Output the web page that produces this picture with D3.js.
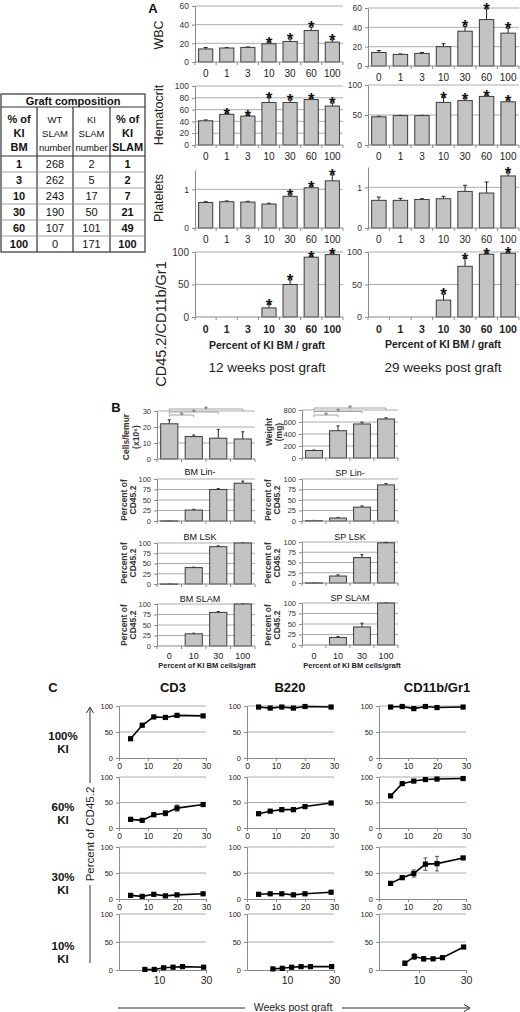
<!DOCTYPE html>
<html>
<head>
<meta charset="utf-8">
<script src="https://cdn.jsdelivr.net/npm/d3@7"></script>
<style>
body { margin: 0; background: #fff; }
text { font-family: "Liberation Sans", Arial, sans-serif; }
</style>
</head>
<body>
<script>
// ---- panel A data (12 and 29 weeks post graft)
var doseA = ["0", "1", "3", "10", "30", "60", "100"];

var wbc12 = [14, 15, 15.6, 19.5, 22, 33.7, 21.3];
var wbc12Err = [1.5, 0.5, 0.5, 1, 2.5, 3.6, 2.5];
var wbc12Sig = ["10", "30", "60", "100"];
var wbc29 = [14, 12, 13, 20, 36, 48, 34];
var wbc29Err = [2, 0.5, 1, 3, 5, 11, 5];
var wbc29Sig = ["30", "60", "100"];

var hct12 = [41, 52, 49, 72, 72, 77, 66];
var hct12Err = [1.5, 1, 1, 8, 4, 1.5, 5];
var hct12Sig = ["1", "3", "10", "30", "60", "100"];
var hct29 = [47, 49, 49, 71, 74, 81, 72];
var hct29Err = [1, 0.5, 0.5, 8, 3, 1, 1];
var hct29Sig = ["10", "30", "60", "100"];

var plt12 = [0.66, 0.68, 0.67, 0.62, 0.82, 1.04, 1.22];
var plt12Err = [0.02, 0.02, 0.02, 0.02, 0.03, 0.03, 0.15];
var plt12Sig = ["30", "60", "100"];
var plt29 = [0.68, 0.68, 0.7, 0.72, 0.9, 0.86, 1.28];
var plt29Err = [0.08, 0.05, 0.02, 0.06, 0.15, 0.27, 0.07];
var plt29Sig = ["100"];

var myelo12 = [0, 0, 0, 14, 50, 92, 96];
var myelo12Err = [0, 0, 0, 5, 7, 1, 1];
var myelo12Sig = ["10", "30", "60", "100"];
var myelo29 = [0, 0, 0, 26, 78, 96.5, 98];
var myelo29Err = [0, 0, 0, 9, 12, 1, 0.5];
var myelo29Sig = ["10", "30", "60", "100"];

// ---- graft composition table
var tblKiBm = ["1", "3", "10", "30", "60", "100"];
var tblWtSlam = ["268", "262", "243", "190", "107", "0"];
var tblKiSlam = ["2", "5", "17", "50", "101", "171"];
var tblKiSlamPct = ["1", "2", "7", "21", "49", "100"];

// ---- panel B data
var doseB = ["0", "10", "30", "100"];
var cellsFemur = [22, 14, 13, 12.5];
var cellsFemurErr = [2.5, 1, 5.5, 4.5];
var spleenWeight = [125, 455, 567, 650];
var spleenWeightErr = [8, 80, 30, 20];
var bmLin = [0.5, 26, 75, 90];
var bmLinErr = [0.3, 2, 2, 5];
var spLin = [1, 7, 33, 86];
var spLinErr = [0.5, 1.5, 3, 3];
var bmLsk = [0.3, 40, 91, 100];
var bmLskErr = [0, 1, 2, 0.3];
var spLsk = [0.5, 17, 62, 98];
var spLskErr = [0.3, 3, 7, 1];
var bmSlam = [0, 29, 80, 100];
var bmSlamErr = [0, 1.5, 2, 0];
var spSlam = [0, 18, 43, 100];
var spSlamErr = [0, 2, 9, 0];
var sigPairs = ["10", "30", "100"];

// ---- panel C data
var weeks = [4, 8, 12, 16, 20, 29];
var noErr = [0, 0, 0, 0, 0, 0];
var cd3Ki100 = [37, 63, 79, 78, 82, 81];
var b220Ki100 = [98, 96, 98, 96, 99, 98];
var myeloKi100 = [98, 99, 95, 99, 97, 98];
var cd3Ki60 = [17, 15, 26, 29, 39, 46];
var cd3Ki60Err = [3, 2, 2, 5, 6, 1];
var b220Ki60 = [28, 33, 36, 36, 42, 49];
var b220Ki60Err = [2, 2, 4, 4, 4, 1];
var myeloKi60 = [63, 87, 92, 95, 96, 97];
var myeloKi60Err = [3, 1, 1, 1, 1, 1];
var cd3Ki30 = [7, 5, 9, 6, 8, 10];
var cd3Ki30Err = [1, 1, 1, 1, 1, 1];
var b220Ki30 = [9, 10, 10, 8, 10, 13];
var b220Ki30Err = [1, 1, 1, 1, 1, 1];
var myeloKi30 = [30, 41, 49, 67, 68, 79];
var myeloKi30Err = [1, 3, 7, 12, 14, 2];
var cd3Ki10 = [1, 1, 4, 5, 6, 5];
var b220Ki10 = [2, 3, 5, 6, 6, 6];
var myeloKi10 = [12, 24, 20, 20, 22, 41];
var myeloKi10Err = [4, 5, 4, 1, 3, 1];

var svg = d3.select("body").append("svg")
	.attr("width", 520)
	.attr("height", 1012);

var AXIS = "#8a8a8a";
var GRID = "#a3a3a3";

function txt(x, y, s, size, opts)
{
	opts = opts || {};
	var t = svg.append("text")
		.attr("x", x)
		.attr("y", y)
		.style("font-size", size + "px")
		.style("font-weight", opts.bold ? "bold" : "normal")
		.style("fill", opts.fill || "#111")
		.style("text-anchor", opts.anchor || "middle")
		.text(s);
	if (opts.rotate)
		t.attr("transform", "rotate(-90," + x + "," + y + ")");
	return t;
}

function barChart(c)
{
	var g = svg.append("g");
	var x = d3.scaleBand().domain(c.cats).range([c.left, c.right])
		.paddingInner(c.pi).paddingOuter(c.po);
	var y = d3.scaleLinear().domain([0, c.max]).range([c.bottom, c.top]);

	g.selectAll(".grid").data(c.grid).enter().append("line")
		.attr("x1", c.left).attr("x2", c.right)
		.attr("y1", function(d) { return y(d); })
		.attr("y2", function(d) { return y(d); })
		.style("stroke", GRID).style("stroke-width", 0.9);

	var ya = g.append("g")
		.attr("transform", "translate(" + c.left + ",0)")
		.call(d3.axisLeft(y).tickValues(c.ticks).tickSize(3).tickSizeOuter(0).tickPadding(3)
			.tickFormat(d3.format("d")));
	ya.select(".domain").style("stroke", AXIS);
	ya.selectAll(".tick line").style("stroke", AXIS);
	ya.selectAll(".tick text").style("font-size", c.yFont + "px").style("fill", "#333")
		.style("font-family", "'Liberation Sans', Arial, sans-serif");

	var items = c.vals.map(function(v, i) { return { cat: c.cats[i], v: v, e: c.errs[i] }; });
	var shown = items.filter(function(d) { return d.v > 0; });
	var cap = c.cap || 2;

	g.selectAll(".err").data(shown).enter().append("path")
		.attr("d", function(d)
		{
			var cx = x(d.cat) + x.bandwidth() / 2;
			var t = y(d.v + d.e);
			return "M" + cx + "," + y(d.v) + "V" + t + "M" + (cx - cap) + "," + t + "H" + (cx + cap);
		})
		.style("stroke", "#222").style("stroke-width", 1).style("fill", "none");

	g.selectAll(".bar").data(shown).enter().append("rect")
		.attr("x", function(d) { return x(d.cat); })
		.attr("y", function(d) { return y(d.v); })
		.attr("width", x.bandwidth())
		.attr("height", function(d) { return Math.max(0.5, c.bottom - y(d.v)); })
		.style("fill", "#c3c3c3")
		.style("stroke", "#3a3a3a")
		.style("stroke-width", 1);

	g.append("line")
		.attr("x1", c.left).attr("x2", c.right)
		.attr("y1", c.bottom).attr("y2", c.bottom)
		.style("stroke", AXIS).style("stroke-width", 1);

	var bounds = d3.range(c.cats.length + 1).map(function(i) { return c.left + i * (c.right - c.left) / c.cats.length; });
	g.selectAll(".xt").data(bounds).enter().append("line")
		.attr("x1", function(d) { return d; }).attr("x2", function(d) { return d; })
		.attr("y1", c.bottom).attr("y2", c.bottom + 3)
		.style("stroke", AXIS);

	if (!c.noX)
	{
		g.selectAll(".xl").data(c.cats).enter().append("text")
			.attr("x", function(d) { return x(d) + x.bandwidth() / 2; })
			.attr("y", c.bottom + c.labelDy)
			.style("text-anchor", "middle")
			.style("font-size", c.xFont + "px")
			.style("font-weight", c.xBold ? "bold" : "normal")
			.style("fill", "#222")
			.text(function(d) { return d; });
	}

	if (c.sig)
	{
		g.selectAll(".star").data(items.filter(function(d) { return c.sig.indexOf(d.cat) >= 0; })).enter().append("text")
			.attr("x", function(d) { return x(d.cat) + x.bandwidth() / 2; })
			.attr("y", function(d) { return y(d.v + d.e) + 6; })
			.style("text-anchor", "middle")
			.style("font-size", "17px")
			.style("font-weight", "bold")
			.style("fill", "#111")
			.text("*");
	}
	return { x: x, y: y };
}

// ================= panel A
txt(153, 13, "A", 13, { bold: true });

var colA = [[195, 343], [368, 519]];
var aCommon = { cats: doseA, pi: 0.33, po: 0.17, yFont: 8.5, xFont: 10, labelDy: 15 };

function aChart(col, extra)
{
	return barChart(Object.assign({}, aCommon, { left: colA[col][0], right: colA[col][1] }, extra));
}

aChart(0, { top: 6, bottom: 62, max: 60, ticks: [0, 20, 40, 60], grid: [20, 40, 60], vals: wbc12, errs: wbc12Err, sig: wbc12Sig });
aChart(1, { top: 8, bottom: 66, max: 60, ticks: [0, 20, 40, 60], grid: [20, 40, 60], vals: wbc29, errs: wbc29Err, sig: wbc29Sig });
aChart(0, { top: 86, bottom: 145, max: 100, ticks: [0, 20, 40, 60, 80, 100], grid: [20, 40, 60, 80, 100], vals: hct12, errs: hct12Err, sig: hct12Sig });
aChart(1, { top: 85, bottom: 145, max: 100, ticks: [0, 50, 100], grid: [50, 100], vals: hct29, errs: hct29Err, sig: hct29Sig });
aChart(0, { top: 170, bottom: 228, max: 1.5, ticks: [0, 1], grid: [1], vals: plt12, errs: plt12Err, sig: plt12Sig });
aChart(1, { top: 167, bottom: 228, max: 1.5, ticks: [0, 1], grid: [1], vals: plt29, errs: plt29Err, sig: plt29Sig });
aChart(0, { top: 252, bottom: 317, max: 100, ticks: [0, 50, 100], grid: [50, 100], vals: myelo12, errs: myelo12Err, sig: myelo12Sig, xFont: 10.5, xBold: true, labelDy: 16, yFont: 10 });
aChart(1, { top: 252, bottom: 317, max: 100, ticks: [0, 50, 100], grid: [50, 100], vals: myelo29, errs: myelo29Err, sig: myelo29Sig, xFont: 10.5, xBold: true, labelDy: 16, yFont: 9 });

txt(163, 35, "WBC", 12.5, { rotate: true, fill: "#222" });
txt(163, 115, "Hematocrit", 12.5, { rotate: true, fill: "#222" });
txt(163, 198, "Platelets", 12.5, { rotate: true, fill: "#222" });
txt(166, 324, "CD45.2/CD11b/Gr1", 14.5, { rotate: true, fill: "#222" });

txt(267, 349, "Percent of KI BM / graft", 10.5, { bold: true, fill: "#222" });
txt(443, 348, "Percent of KI BM / graft", 10.5, { bold: true, fill: "#222" });
txt(267, 372, "12 weeks post graft", 13.5, { fill: "#222" });
txt(443, 372, "29 weeks post graft", 13.5, { fill: "#222" });

// ================= table
var tx = [1, 37, 73, 110, 145];
var tTop = 94, tHead = 107, tBody = 156, rowH = 16;
var tBottom = tBody + rowH * tblKiBm.length;
var tg = svg.append("g");
tg.append("rect").attr("x", tx[0]).attr("y", tTop).attr("width", tx[4] - tx[0]).attr("height", tBottom - tTop)
	.style("fill", "none").style("stroke", "#333").style("stroke-width", 1.2);
tg.selectAll(".vl").data(tx.slice(1, 4)).enter().append("line")
	.attr("x1", function(d) { return d; }).attr("x2", function(d) { return d; })
	.attr("y1", tHead).attr("y2", tBottom)
	.style("stroke", "#333").style("stroke-width", 1.2);
var hLines = [tHead, tBody].concat(d3.range(1, tblKiBm.length).map(function(i) { return tBody + i * rowH; }));
tg.selectAll(".hl").data(hLines).enter().append("line")
	.attr("x1", tx[0]).attr("x2", tx[4])
	.attr("y1", function(d) { return d; }).attr("y2", function(d) { return d; })
	.style("stroke", function(d, i) { return i < 2 ? "#333" : "#888"; })
	.style("stroke-width", function(d, i) { return i < 2 ? 1.2 : 0.8; });

txt(73, 105, "Graft composition", 11, { bold: true });
var heads = [["% of", "KI", "BM"], ["WT", "SLAM", "number"], ["KI", "SLAM", "number"], ["% of", "KI", "SLAM"]];
var headBold = [true, false, false, true];
heads.forEach(function(h, ci)
{
	h.forEach(function(s, li)
	{
		txt((tx[ci] + tx[ci + 1]) / 2, 123 + li * 14, s, ci == 0 || ci == 3 ? 11 : 9.5, { bold: headBold[ci] });
	});
});
[tblKiBm, tblWtSlam, tblKiSlam, tblKiSlamPct].forEach(function(col, ci)
{
	col.forEach(function(s, ri)
	{
		txt((tx[ci] + tx[ci + 1]) / 2, tBody + ri * rowH + 12, s, 11, { bold: headBold[ci] });
	});
});

// ================= panel B
txt(116, 412, "B", 13, { bold: true });

var colB = [[157, 255], [302, 398]];
var bCommon = { cats: doseB, pi: 0.3, po: 0.15, yFont: 7.5, xFont: 9, labelDy: 13, cap: 1.5 };
function bChart(col, extra)
{
	return barChart(Object.assign({}, bCommon, { left: colB[col][0], right: colB[col][1] }, extra));
}
var pctTicks = [0, 25, 50, 75, 100];
var pctGrid = [25, 50, 75, 100];

var cf = bChart(0, { top: 411, bottom: 459, max: 30, ticks: [0, 10, 20, 30], grid: [10, 20, 30], vals: cellsFemur, errs: cellsFemurErr, noX: true });
var sw = bChart(1, { top: 410, bottom: 458, max: 800, ticks: [0, 200, 400, 600, 800], grid: [200, 400, 600, 800], vals: spleenWeight, errs: spleenWeightErr, noX: true });
bChart(0, { top: 479, bottom: 521, max: 100, ticks: pctTicks, grid: pctGrid, vals: bmLin, errs: bmLinErr, noX: true });
bChart(1, { top: 479, bottom: 521, max: 100, ticks: pctTicks, grid: pctGrid, vals: spLin, errs: spLinErr, noX: true });
bChart(0, { top: 543, bottom: 584, max: 100, ticks: pctTicks, grid: pctGrid, vals: bmLsk, errs: bmLskErr, noX: true });
bChart(1, { top: 542, bottom: 583, max: 100, ticks: pctTicks, grid: pctGrid, vals: spLsk, errs: spLskErr, noX: true });
bChart(0, { top: 604, bottom: 646, max: 100, ticks: pctTicks, grid: pctGrid, vals: bmSlam, errs: bmSlamErr });
bChart(1, { top: 603, bottom: 645, max: 100, ticks: pctTicks, grid: pctGrid, vals: spSlam, errs: spSlamErr, labelDy: 14 });

function brackets(sc, levels)
{
	var x0 = sc.x("0") + sc.x.bandwidth() / 2;
	sigPairs.forEach(function(c, i)
	{
		var x1 = sc.x(c) + sc.x.bandwidth() / 2;
		var ly = levels[i];
		svg.append("path")
			.attr("d", "M" + x0 + "," + (ly + 2) + "V" + ly + "H" + x1 + "V" + (ly + 2))
			.style("fill", "none").style("stroke", "#999").style("stroke-width", 0.9);
		txt((x0 + x1) / 2, ly + 2.5, "*", 9, { bold: true, fill: "#888" });
	});
}
brackets(cf, [415, 412, 409]);
brackets(sw, [415, 411.5, 408]);

txt(200, 475, "BM Lin-", 9);
txt(350, 476, "SP Lin-", 9);
txt(200, 540, "BM LSK", 9);
txt(350, 540, "SP LSK", 9);
txt(200, 602, "BM SLAM", 9);
txt(350, 601, "SP SLAM", 9);

txt(129, 437, "Cells/femur", 8.5, { rotate: true, bold: true, fill: "#333" });
txt(139, 437, "(x10\u2076)", 8.5, { rotate: true, bold: true, fill: "#333" });
txt(272, 432, "Weight", 8.5, { rotate: true, bold: true, fill: "#333" });
txt(282, 432, "(mg)", 8.5, { rotate: true, bold: true, fill: "#333" });
[[500, 0], [500, 1], [563, 0], [563, 1], [625, 0], [625, 1]].forEach(function(p)
{
	var bx = p[1] == 0 ? 127 : 271;
	txt(bx, p[0], "Percent of", 8.5, { rotate: true, bold: true, fill: "#333" });
	txt(bx + 9, p[0], "CD45.2", 8.5, { rotate: true, bold: true, fill: "#333" });
});
txt(207, 668, "Percent of KI BM cells/graft", 7.5, { bold: true, fill: "#222" });
txt(352, 668, "Percent of KI BM cells/graft", 7.5, { bold: true, fill: "#222" });

// ================= panel C
txt(53, 692, "C", 13, { bold: true });
txt(173, 692, "CD3", 13, { bold: true });
txt(290, 692, "B220", 13, { bold: true });
txt(437, 692, "CD11b/Gr1", 13, { bold: true });

var colC = [119, 247, 379];
var cW = 87;
var rowsC = [[706, 758], [777, 828], [847, 899], [914, 970]];
var seriesC = [
	[[cd3Ki100, noErr], [b220Ki100, noErr], [myeloKi100, noErr]],
	[[cd3Ki60, cd3Ki60Err], [b220Ki60, b220Ki60Err], [myeloKi60, myeloKi60Err]],
	[[cd3Ki30, cd3Ki30Err], [b220Ki30, b220Ki30Err], [myeloKi30, myeloKi30Err]],
	[[cd3Ki10, noErr], [b220Ki10, noErr], [myeloKi10, myeloKi10Err]]
];
var rowLabels = ["100%", "60%", "30%", "10%"];

function lineChart(left, top, bottom, vals, errs, last)
{
	var g = svg.append("g");
	var x = d3.scaleLinear().domain(last ? [-7, 30] : [0, 30]).range([left, left + cW]);
	var y = d3.scaleLinear().domain([0, 100]).range([bottom, top]);

	g.selectAll(".grid").data([50, 100]).enter().append("line")
		.attr("x1", left).attr("x2", left + cW)
		.attr("y1", function(d) { return y(d); }).attr("y2", function(d) { return y(d); })
		.style("stroke", GRID).style("stroke-width", 0.9);

	var ya = g.append("g").attr("transform", "translate(" + left + ",0)")
		.call(d3.axisLeft(y).tickValues([0, 50, 100]).tickSize(3).tickSizeOuter(0).tickPadding(3));
	var xa = g.append("g").attr("transform", "translate(0," + bottom + ")")
		.call(d3.axisBottom(x).tickValues(last ? [10, 30] : [0, 10, 20, 30]).tickSize(3).tickSizeOuter(0).tickPadding(last ? 4 : 2));
	[ya, xa].forEach(function(a)
	{
		a.select(".domain").style("stroke", AXIS);
		a.selectAll(".tick line").style("stroke", AXIS);
		a.selectAll(".tick text").style("fill", "#222").style("font-family", "'Liberation Sans', Arial, sans-serif");
	});
	ya.selectAll(".tick text").style("font-size", "7.5px");
	xa.selectAll(".tick text").style("font-size", last ? "10.5px" : "8.5px");

	var pts = weeks.map(function(w, i) { return { w: w, v: vals[i], e: errs[i] }; });
	g.selectAll(".eb").data(pts.filter(function(d) { return d.e > 0; })).enter().append("path")
		.attr("d", function(d)
		{
			var cx = x(d.w), a = y(d.v + d.e), b = y(d.v - d.e);
			return "M" + cx + "," + a + "V" + b + "M" + (cx - 2) + "," + a + "H" + (cx + 2) + "M" + (cx - 2) + "," + b + "H" + (cx + 2);
		})
		.style("stroke", "#444").style("stroke-width", 0.9).style("fill", "none");

	g.append("path").datum(pts)
		.attr("d", d3.line().x(function(d) { return x(d.w); }).y(function(d) { return y(d.v); }))
		.style("fill", "none").style("stroke", "#000").style("stroke-width", 1.6);

	g.selectAll(".pt").data(pts).enter().append("rect")
		.attr("x", function(d) { return x(d.w) - 2.6; })
		.attr("y", function(d) { return y(d.v) - 2.6; })
		.attr("width", 5.2).attr("height", 5.2)
		.style("fill", "#000");
}

rowsC.forEach(function(r, ri)
{
	colC.forEach(function(left, ci)
	{
		lineChart(left, r[0], r[1], seriesC[ri][ci][0], seriesC[ri][ci][1], ri == 3);
	});
	var mid = (r[0] + r[1]) / 2;
	txt(63, mid + 8, rowLabels[ri], 11.5, { bold: true });
	txt(63, mid + 21, "KI", 11.5, { bold: true });
});

// vertical arrow + label
svg.append("path")
	.attr("d", "M90,963V885M90,783V708M86.5,713L90,707L93.5,713")
	.style("fill", "none").style("stroke", "#333").style("stroke-width", 1);
txt(94, 834, "Percent of CD45.2", 11.5, { rotate: true, fill: "#222" });

// horizontal arrow + label
svg.append("path")
	.attr("d", "M118,1008H245M342,1008H470M464,1004.5L470,1008L464,1011.5")
	.style("fill", "none").style("stroke", "#333").style("stroke-width", 1);
txt(293, 1011, "Weeks post graft", 10.5, { fill: "#222" });
</script>
</body>
</html>
